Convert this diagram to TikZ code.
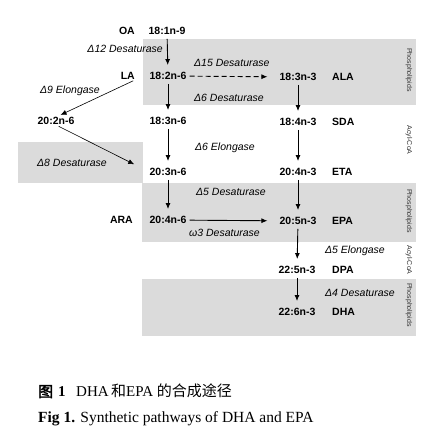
\documentclass[tikz,border=0pt]{standalone}
\usepackage{fontspec}
\setmainfont{Liberation Serif}
\setsansfont{Liberation Sans}
\newfontfamily\cjk[AutoFakeBold=2.5]{Noto Sans CJK SC}
\usetikzlibrary{arrows.meta}
\begin{document}
\begin{tikzpicture}[x=1pt,y=-1pt,
  fa/.style={font=\sffamily\bfseries\fontsize{10.5}{12}\selectfont, inner sep=0pt, text height=7.5pt, text depth=0pt},
  enz/.style={font=\sffamily\itshape\fontsize{10.5}{12}\selectfont, inner sep=0pt, text height=7.5pt, text depth=0pt},
  side/.style={font=\sffamily\fontsize{7}{8}\selectfont, inner sep=0pt, rotate=-90, text=black!80},
  band/.style={fill=black!14, draw=none},
  arr/.style={-{Latex[length=6pt,width=5pt]}, line width=0.9pt, shorten <=4pt, shorten >=7pt},
  harr/.style={-{Latex[length=6pt,width=5pt]}, line width=0.9pt, shorten <=3pt, shorten >=12pt},
  darr/.style={harr, dash pattern=on 5pt off 3pt},
  slant/.style={-{Latex[length=6pt,width=5pt]}, line width=0.6pt}
]
\useasboundingbox (0,0) rectangle (448,435);
\fill[white] (0,0) rectangle (448,435);
% shaded bands
\fill[band] (143,39) rectangle (416,105);
\fill[band] (18,142) rectangle (143,183);
\fill[band] (142,183) rectangle (416,242);
\fill[band] (142,279) rectangle (416,336);
% side labels
\node[side] (s1) at (409,70) {Phospholipids};
\node[side] (s2) at (409,140) {Acyl-CoA};
\node[side] (s3) at (409,211) {Phospholipids};
\node[side] (s4) at (409,260) {Acyl-CoA};
\node[side] (s5) at (409,305) {Phospholipids};
% fatty acids
\node[fa] (f181) at (167,31) {18:1n-9};
\node[fa, anchor=east] (oa) at (135,31) {OA};
\node[fa] (f182) at (168,76) {18:2n-6};
\node[fa, anchor=east] (la) at (135,76) {LA};
\node[fa] (f183b) at (298,77) {18:3n-3};
\node[fa, anchor=west] (ala) at (332,77) {ALA};
\node[fa] (f202) at (56,121) {20:2n-6};
\node[fa] (f183a) at (168,121) {18:3n-6};
\node[fa] (f184) at (298,122) {18:4n-3};
\node[fa, anchor=west] (sda) at (332,122) {SDA};
\node[fa] (f203) at (168,172) {20:3n-6};
\node[fa] (f204b) at (298,172) {20:4n-3};
\node[fa, anchor=west] (eta) at (332,172) {ETA};
\node[fa] (f204a) at (168,220) {20:4n-6};
\node[fa, anchor=east] (ara) at (133,220) {ARA};
\node[fa] (f205) at (298,221) {20:5n-3};
\node[fa, anchor=west] (epa) at (332,221) {EPA};
\node[fa] (f225) at (297,270) {22:5n-3};
\node[fa, anchor=west] (dpa) at (332,270) {DPA};
\node[fa] (f226) at (297,312) {22:6n-3};
\node[fa, anchor=west] (dha) at (332,312) {DHA};
% enzymes
\node[enz, anchor=east] (e1) at (163,49) {Δ12 Desaturase};
\node[enz, anchor=west] (e2) at (194,63) {Δ15 Desaturase};
\node[enz, anchor=west] (e3) at (194,98) {Δ6 Desaturase};
\node[enz, anchor=west] (e4) at (40,90) {Δ9 Elongase};
\node[enz, anchor=west] (e5) at (37,163) {Δ8 Desaturase};
\node[enz, anchor=west] (e6) at (195,147) {Δ6 Elongase};
\node[enz, anchor=west] (e7) at (196,192) {Δ5 Desaturase};
\node[enz, anchor=west] (e8) at (189,233) {ω3 Desaturase};
\node[enz, anchor=west] (e9) at (325,250) {Δ5 Elongase};
\node[enz, anchor=west] (e10) at (325,293) {Δ4 Desaturase};
% connectors
\draw[arr] (f181) -- (f182);
\draw[arr] (f182) -- (f183a);
\draw[arr] (f183a) -- (f203);
\draw[arr] (f203) -- (f204a);
\draw[arr] (f183b) -- (f184);
\draw[arr] (f184) -- (f204b);
\draw[arr] (f204b) -- (f205);
\draw[arr] (f205) -- (f225);
\draw[arr] (f225) -- (f226);
\draw[darr] (f182) -- (f183b);
\draw[harr] (f204a) -- (f205);
\draw[slant, shorten <=2pt, shorten >=5pt] (la.south east) -- (f202.north);
\draw[slant, shorten <=3pt, shorten >=17pt] (f202.south) -- (f203.west);
% caption
\node[anchor=base west, inner sep=0pt, font=\fontsize{15}{18}\selectfont] (cap1) at (38,397)
  {{\cjk\bfseries 图}\hspace{5pt}\textbf{1}\hspace{0.7em}DHA\,{\cjk 和}EPA {\cjk 的合成途径}};
\node[anchor=base west, inner sep=0pt, font=\fontsize{15.5}{18}\selectfont] (cap2) at (38,423)
  {\textbf{Fig 1.} Synthetic pathways of DHA and EPA};
\end{tikzpicture}
\end{document}
